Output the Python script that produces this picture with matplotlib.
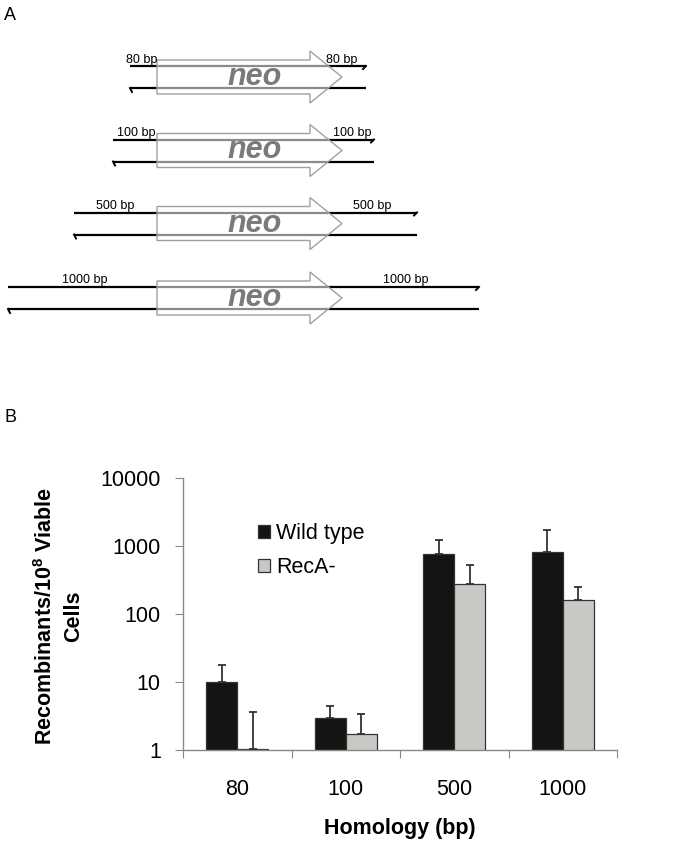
import matplotlib.pyplot as plt
from matplotlib.patches import Polygon, Patch

plt.rcParams['font.family'] = ['Liberation Sans', 'DejaVu Sans']
plt.rcParams['mathtext.fontset'] = 'custom'
plt.rcParams['mathtext.rm'] = 'Liberation Sans'
plt.rcParams['mathtext.bf'] = 'Liberation Sans:bold'

# panel A: construct labels
arm_labels = ['80 bp', '100 bp', '500 bp', '1000 bp']

# panel B: recombination frequencies
homology = ['80', '100', '500', '1000']
wild_type = [10, 3.0, 760, 815]
wild_type_err = [7.8, 1.4, 470, 915]
reca = [1.03, 1.72, 276, 160]
reca_err = [2.57, 1.68, 249, 90]
y_ticks = [1, 10, 100, 1000, 10000]

W, H = 692, 867
fig = plt.figure(figsize=(W / 100, H / 100), dpi=100)

# ---- panel A (schematic, pixel coordinates) ----
axa = fig.add_axes([0, 0, 1, 1])
axa.set_xlim(0, W)
axa.set_ylim(H, 0)
axa.axis('off')

row_y = [77, 150.5, 223.5, 298]
line_left = [130, 113, 74, 8]
line_right = [366, 374, 417, 479]
lab_left = [126, 117, 96, 62]
lab_right = [326, 333, 353, 383]
x0, xb, xt = 157, 310, 342  # arrow start, head base, tip

for i, lab in enumerate(arm_labels):
    c = row_y[i]
    yt, yb = c - 11, c + 11
    axa.plot([line_left[i], line_right[i]], [yt, yt], color='black', lw=1.6, solid_capstyle='butt')
    axa.plot([line_right[i], line_right[i] - 3], [yt, yt + 3], color='black', lw=1.4)
    axa.plot([line_left[i], line_right[i]], [yb, yb], color='black', lw=1.6, solid_capstyle='butt')
    axa.plot([line_left[i], line_left[i] + 2], [yb, yb + 4], color='black', lw=1.4)
    arrow = Polygon([(x0, c - 17), (xb, c - 17), (xb, c - 26), (xt, c), (xb, c + 26),
                     (xb, c + 17), (x0, c + 17)], closed=True,
                    facecolor=(1, 1, 1, 0.55), edgecolor='#a0a0a0', lw=1.0, zorder=3)
    axa.add_patch(arrow)
    axa.text(255, c, 'neo', fontsize=22, fontweight='bold', fontstyle='italic',
             color='#7a7a7a', ha='center', va='center', zorder=4)
    axa.text(lab_left[i], yt - 3.5, lab, fontsize=9, ha='left', va='baseline', zorder=5)
    axa.text(lab_right[i], yt - 3.5, lab, fontsize=9, ha='left', va='baseline', zorder=5)

fig.text(4 / W, 1 - 15 / H, 'A', fontsize=13, ha='left', va='center')
fig.text(4 / W, 1 - 418 / H, 'B', fontsize=13, ha='left', va='center')

# ---- panel B ----
ax = fig.add_axes([183 / W, 1 - 750 / H, 434 / W, 272 / H])
ax.set_yscale('log')
x = list(range(len(homology)))
bw = 0.285
xw = [v - bw / 2 for v in x]
xr = [v + bw / 2 for v in x]

ax.bar(xw, wild_type, width=bw, color='#141412', edgecolor='#333333', lw=0.9, zorder=2)
ax.bar(xr, reca, width=bw, color='#c8c8c5', edgecolor='#333333', lw=0.9, zorder=2)
ax.errorbar(xw, wild_type, yerr=[[0] * 4, wild_type_err], fmt='none', ecolor='#333333',
            elinewidth=1.3, capsize=3, capthick=1.3, zorder=3)
ax.errorbar(xr, reca, yerr=[[0] * 4, reca_err], fmt='none', ecolor='#333333',
            elinewidth=1.3, capsize=3, capthick=1.3, zorder=3)

ax.set_ylim(1, 10000)
ax.set_xlim(-0.5, 3.5)
ax.set_yticks(y_ticks)
ax.set_yticklabels([str(v) for v in y_ticks])
ax.minorticks_off()
ax.set_xticks([-0.5, 0.5, 1.5, 2.5, 3.5])
ax.set_xticklabels([])
ax.set_xticks(x, minor=True)
ax.set_xticklabels(homology, minor=True)
ax.tick_params(axis='x', which='major', length=6, color='#888888', direction='out')
ax.tick_params(axis='x', which='minor', length=0, labelsize=15.5, pad=21)
ax.tick_params(axis='y', which='major', length=6, color='#888888', labelsize=15.5, pad=10)
for s in ['top', 'right']:
    ax.spines[s].set_visible(False)
for s in ['left', 'bottom']:
    ax.spines[s].set_color('#888888')
    ax.spines[s].set_linewidth(1.0)

ax.set_xlabel('Homology (bp)', fontsize=15.5, fontweight='bold', labelpad=13)
fig.text(59 / W, 1 - 616 / H, 'Recombinants/10$^{\\mathbf{8}}$ Viable\nCells', rotation=90,
         fontsize=15.5, fontweight='bold', ha='center', va='center', linespacing=1.4)

handles = [Patch(facecolor='#141412', edgecolor='#333333', lw=0.9, label='Wild type'),
           Patch(facecolor='#c8c8c5', edgecolor='#333333', lw=0.9, label='RecA-')]
ax.legend(handles=handles, loc='upper left', bbox_to_anchor=(258 / W, 1 - 523 / H),
          bbox_transform=fig.transFigure, frameon=False, fontsize=15.5,
          handlelength=0.55, handleheight=0.55, handletextpad=0.3, labelspacing=0.62,
          borderpad=0, borderaxespad=0)

fig.savefig('out.png', dpi=100)
